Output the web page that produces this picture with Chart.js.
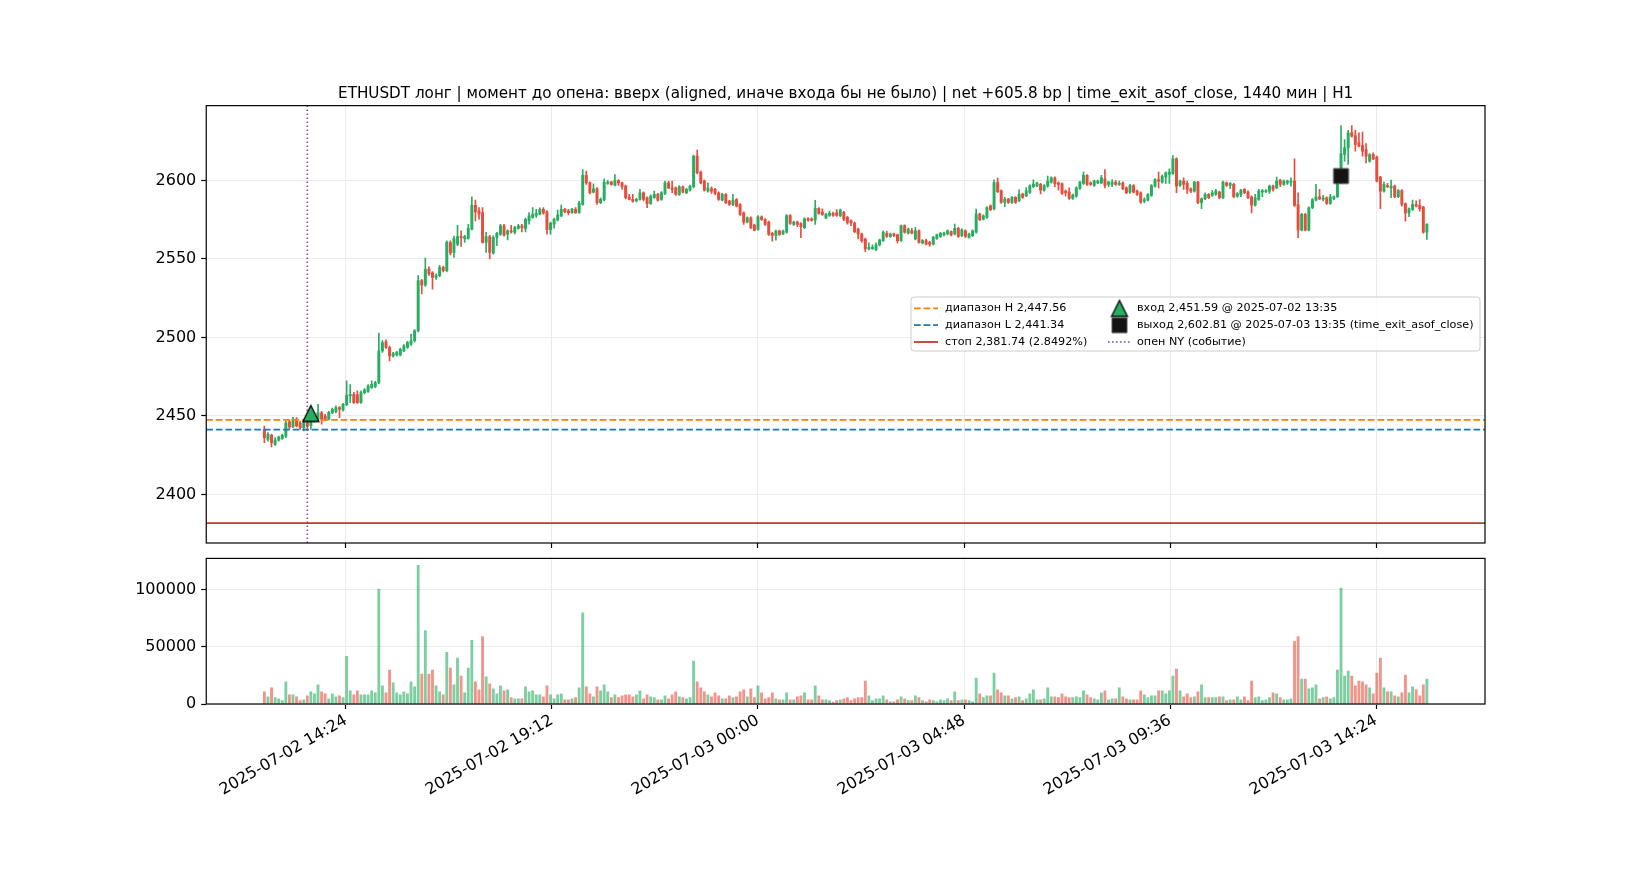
<!DOCTYPE html>
<html>
<head>
<meta charset="utf-8">
<script src="https://cdn.jsdelivr.net/npm/chart.js@4.4.1/dist/chart.umd.min.js"></script>
<style>
html, body { margin: 0; padding: 0; background: #fff; }
#wrap { position: relative; width: 1650px; height: 880px; }
#mainbox { position: absolute; left: 0; top: 0; width: 1650px; height: 560px; }
#volbox { position: absolute; left: 0; top: 550px; width: 1650px; height: 330px; }
</style>
</head>
<body>
<div id="wrap">
  <div id="mainbox"><canvas id="main"></canvas></div>
  <div id="volbox"><canvas id="vol"></canvas></div>
</div>
<script>
// 5-min candles, minutes counted from 2025-07-02 00:00
var startMin = 12 * 60 + 30;
var stepMin = 5;

var opens = [
  2441.5, 2435.1, 2437.7, 2431.9, 2434.5, 2435.5, 2437.2, 2446.2, 2443.2, 2448.0,
  2445.5, 2442.6, 2446.0, 2443.8, 2447.0, 2447.9, 2452.0, 2450.0, 2447.9, 2452.1,
  2452.8, 2455.3, 2453.8, 2457.2, 2462.8, 2463.8, 2463.5, 2458.5, 2464.9, 2465.5,
  2468.0, 2468.7, 2471.3, 2491.5, 2497.2, 2493.6, 2488.3, 2488.9, 2488.9, 2491.5,
  2493.6, 2495.7, 2497.9, 2504.2, 2536.2, 2533.4, 2543.6, 2541.1, 2538.3, 2539.4,
  2544.7, 2542.6, 2560.5, 2554.2, 2559.5, 2564.3, 2563.0, 2563.1, 2569.0, 2584.2,
  2580.6, 2579.5, 2560.5, 2564.3, 2553.8, 2563.7, 2565.8, 2571.1, 2565.8, 2567.9,
  2566.9, 2569.4, 2571.1, 2569.4, 2574.3, 2576.4, 2577.8, 2578.5, 2581.6, 2580.0,
  2568.6, 2572.1, 2574.9, 2577.4, 2581.6, 2580.6, 2579.5, 2581.6, 2579.5, 2584.8,
  2603.2, 2598.5, 2592.6, 2594.7, 2585.9, 2587.6, 2598.1, 2598.9, 2597.0, 2600.0,
  2598.5, 2596.4, 2589.4, 2588.0, 2586.9, 2588.0, 2592.2, 2589.0, 2585.4, 2589.0,
  2591.1, 2587.9, 2591.7, 2598.5, 2595.3, 2595.3, 2591.1, 2596.0, 2592.2, 2593.8,
  2596.0, 2615.5, 2605.3, 2599.6, 2593.2, 2594.7, 2594.3, 2592.2, 2587.5, 2591.1,
  2586.8, 2584.7, 2587.9, 2584.7, 2579.4, 2573.5, 2576.2, 2571.6, 2568.8, 2576.9,
  2575.2, 2573.5, 2566.3, 2565.0, 2567.8, 2566.0, 2567.1, 2577.7, 2572.0, 2573.5,
  2572.6, 2569.9, 2575.8, 2575.6, 2574.7, 2582.2, 2579.9, 2576.2, 2577.7, 2579.0,
  2579.4, 2577.5, 2579.7, 2576.5, 2574.4, 2572.9, 2569.1, 2565.9, 2562.7, 2556.4,
  2556.6, 2555.9, 2558.9, 2561.7, 2566.3, 2564.4, 2565.9, 2565.3, 2561.7, 2571.2,
  2566.5, 2568.0, 2562.7, 2568.0, 2560.2, 2561.7, 2560.6, 2559.5, 2563.1, 2564.4,
  2565.3, 2565.9, 2567.4, 2565.9, 2569.5, 2564.8, 2568.0, 2563.8, 2564.8, 2567.0,
  2578.6, 2575.4, 2576.5, 2583.9, 2581.8, 2598.7, 2593.4, 2586.0, 2588.1, 2586.0,
  2589.2, 2587.1, 2591.3, 2590.2, 2592.4, 2596.0, 2596.6, 2597.5, 2593.8, 2596.4,
  2598.9, 2601.7, 2598.5, 2597.9, 2593.2, 2592.6, 2588.5, 2590.0, 2594.9, 2598.1,
  2603.2, 2598.5, 2596.8, 2598.5, 2598.5, 2601.1, 2597.5, 2597.5, 2598.9, 2597.5,
  2598.5, 2595.3, 2592.6, 2596.8, 2593.2, 2592.2, 2586.8, 2587.5, 2590.5, 2596.4,
  2600.6, 2598.9, 2602.3, 2603.8, 2604.4, 2613.8, 2596.8, 2599.6, 2598.1, 2594.7,
  2593.2, 2598.9, 2585.8, 2588.3, 2591.1, 2590.5, 2591.1, 2592.6, 2589.0, 2598.5,
  2596.8, 2597.5, 2590.0, 2591.1, 2594.3, 2592.8, 2589.6, 2584.3, 2587.9, 2592.6,
  2592.8, 2593.2, 2596.4, 2595.3, 2600.2, 2597.5, 2598.5, 2598.9, 2599.6, 2584.7,
  2568.4, 2578.4, 2568.4, 2582.6, 2587.5, 2589.6, 2587.9, 2589.0, 2585.4, 2588.3,
  2589.6, 2598.5, 2616.6, 2620.8, 2630.3, 2628.6, 2624.0, 2622.3, 2619.7, 2612.3,
  2616.5, 2614.9, 2602.1, 2593.2, 2596.8, 2595.3, 2596.4, 2589.6, 2593.6, 2585.1,
  2579.4, 2581.6, 2584.7, 2584.1, 2583.0, 2567.1
];
var highs = [
  2443.6, 2439.4, 2438.5, 2436.2, 2437.2, 2438.5, 2446.8, 2447.5, 2449.2, 2449.0,
  2446.5, 2446.8, 2447.0, 2448.0, 2449.5, 2457.4, 2453.0, 2451.0, 2453.0, 2455.0,
  2456.5, 2456.0, 2458.0, 2472.3, 2470.0, 2465.0, 2466.0, 2466.0, 2467.5, 2470.0,
  2472.3, 2472.0, 2502.8, 2498.0, 2498.5, 2494.5, 2490.5, 2491.2, 2493.2, 2495.5,
  2497.5, 2502.1, 2505.0, 2539.4, 2537.0, 2550.6, 2545.0, 2542.0, 2540.5, 2546.0,
  2545.5, 2561.5, 2561.5, 2564.5, 2571.5, 2567.9, 2565.0, 2572.1, 2589.5, 2587.5,
  2582.7, 2582.7, 2566.9, 2565.0, 2564.8, 2567.0, 2572.1, 2572.0, 2568.5, 2571.5,
  2570.8, 2572.1, 2572.1, 2576.0, 2579.5, 2582.7, 2581.6, 2582.5, 2582.7, 2580.8,
  2573.5, 2576.0, 2581.2, 2584.4, 2582.3, 2581.6, 2582.2, 2582.7, 2586.9, 2607.0,
  2605.9, 2599.2, 2597.9, 2595.5, 2589.0, 2601.0, 2600.0, 2599.5, 2603.8, 2600.6,
  2599.0, 2597.0, 2591.1, 2591.1, 2588.6, 2594.3, 2592.8, 2589.6, 2590.8, 2593.2,
  2591.8, 2592.9, 2599.6, 2599.6, 2599.6, 2596.0, 2596.7, 2596.6, 2595.0, 2597.1,
  2616.2, 2619.3, 2606.0, 2600.2, 2598.5, 2596.0, 2595.0, 2592.8, 2591.8, 2591.7,
  2587.4, 2591.1, 2588.5, 2585.3, 2580.0, 2576.9, 2576.8, 2572.2, 2577.7, 2577.5,
  2575.8, 2574.1, 2566.9, 2568.4, 2568.4, 2568.4, 2578.3, 2578.3, 2574.1, 2574.1,
  2573.2, 2576.2, 2576.4, 2576.2, 2587.3, 2582.8, 2582.0, 2579.0, 2580.5, 2579.8,
  2581.5, 2581.7, 2580.3, 2577.1, 2575.0, 2573.5, 2569.7, 2566.5, 2563.3, 2560.2,
  2559.0, 2560.2, 2562.7, 2568.0, 2567.8, 2566.5, 2566.5, 2565.9, 2571.6, 2571.8,
  2569.7, 2569.5, 2570.1, 2568.6, 2562.3, 2562.7, 2561.2, 2564.4, 2565.9, 2566.9,
  2567.1, 2568.6, 2568.0, 2572.2, 2570.1, 2569.2, 2568.6, 2566.5, 2568.6, 2581.8,
  2579.2, 2578.1, 2583.4, 2584.5, 2600.4, 2601.5, 2594.0, 2589.2, 2588.7, 2589.8,
  2589.8, 2594.1, 2591.9, 2595.5, 2597.2, 2600.4, 2598.9, 2598.1, 2597.4, 2602.8,
  2602.3, 2602.3, 2599.1, 2598.5, 2593.8, 2595.3, 2591.3, 2595.9, 2599.5, 2605.3,
  2603.8, 2599.1, 2600.2, 2600.2, 2603.2, 2607.0, 2599.5, 2600.6, 2600.0, 2599.6,
  2599.1, 2595.9, 2597.5, 2597.4, 2593.8, 2592.8, 2589.0, 2591.7, 2597.4, 2601.2,
  2605.3, 2603.4, 2605.5, 2607.4, 2615.9, 2614.4, 2600.2, 2601.7, 2599.6, 2595.3,
  2599.5, 2599.5, 2588.9, 2592.2, 2591.7, 2593.6, 2594.3, 2593.2, 2599.6, 2599.1,
  2598.7, 2598.1, 2592.3, 2594.4, 2594.9, 2593.4, 2590.2, 2591.1, 2594.3, 2594.2,
  2594.2, 2597.0, 2597.0, 2602.1, 2600.8, 2600.2, 2600.2, 2601.7, 2613.8, 2592.2,
  2579.0, 2579.0, 2583.2, 2588.5, 2597.5, 2594.3, 2590.5, 2589.6, 2591.1, 2590.2,
  2599.1, 2635.0, 2626.1, 2632.0, 2635.0, 2632.0, 2630.3, 2630.8, 2623.5, 2617.1,
  2617.6, 2615.5, 2602.7, 2599.0, 2598.1, 2600.2, 2597.0, 2594.2, 2594.2, 2585.7,
  2582.6, 2587.5, 2587.0, 2587.9, 2583.6, 2572.6
];
var lows = [
  2433.0, 2434.0, 2430.2, 2431.3, 2434.0, 2435.0, 2436.2, 2441.8, 2442.5, 2443.0,
  2441.5, 2440.5, 2441.0, 2441.5, 2446.0, 2447.0, 2444.7, 2447.0, 2447.5, 2451.5,
  2452.0, 2448.9, 2453.0, 2456.5, 2458.5, 2458.0, 2458.0, 2458.0, 2464.0, 2465.0,
  2467.5, 2468.0, 2470.5, 2490.5, 2493.0, 2485.1, 2487.5, 2488.2, 2488.3, 2491.0,
  2493.0, 2495.0, 2497.0, 2503.5, 2527.7, 2532.5, 2539.5, 2530.8, 2537.0, 2538.8,
  2541.8, 2541.8, 2552.5, 2551.0, 2558.5, 2558.0, 2560.5, 2562.6, 2568.5, 2574.3,
  2575.3, 2560.0, 2554.2, 2550.0, 2553.0, 2558.4, 2565.0, 2564.5, 2562.2, 2566.4,
  2566.0, 2569.0, 2567.3, 2567.3, 2572.1, 2576.0, 2576.4, 2578.0, 2578.5, 2565.8,
  2565.8, 2569.6, 2574.3, 2577.0, 2579.3, 2578.0, 2579.0, 2579.0, 2579.0, 2584.2,
  2597.5, 2591.5, 2592.0, 2584.8, 2585.2, 2587.0, 2597.5, 2597.0, 2596.5, 2596.8,
  2594.3, 2588.3, 2587.6, 2586.2, 2586.3, 2587.5, 2586.9, 2582.7, 2584.8, 2588.5,
  2586.8, 2587.3, 2591.0, 2594.7, 2592.2, 2590.5, 2590.5, 2592.0, 2591.6, 2593.2,
  2595.3, 2604.2, 2597.8, 2593.2, 2592.5, 2591.7, 2591.0, 2587.3, 2587.0, 2585.2,
  2584.1, 2584.0, 2583.2, 2577.8, 2572.0, 2572.9, 2569.3, 2567.8, 2568.2, 2574.6,
  2571.4, 2565.0, 2561.4, 2562.0, 2565.0, 2565.4, 2566.5, 2572.0, 2571.4, 2570.5,
  2563.5, 2569.3, 2574.1, 2574.1, 2572.0, 2578.4, 2577.8, 2575.6, 2577.1, 2577.1,
  2577.1, 2576.9, 2574.4, 2572.2, 2571.2, 2566.8, 2562.7, 2560.6, 2554.7, 2555.8,
  2556.0, 2555.3, 2558.3, 2561.1, 2563.8, 2563.8, 2564.2, 2560.2, 2561.1, 2566.4,
  2565.9, 2565.9, 2562.1, 2560.0, 2559.6, 2558.9, 2558.1, 2558.9, 2562.5, 2563.8,
  2564.7, 2565.3, 2564.7, 2565.3, 2563.8, 2564.2, 2563.8, 2563.2, 2564.2, 2566.4,
  2574.4, 2574.8, 2575.9, 2580.8, 2581.2, 2592.2, 2585.4, 2583.3, 2585.4, 2585.4,
  2585.4, 2586.5, 2588.6, 2589.6, 2591.8, 2595.4, 2596.0, 2591.5, 2593.2, 2595.8,
  2598.3, 2596.0, 2593.8, 2591.1, 2590.0, 2587.9, 2587.9, 2589.4, 2594.3, 2597.5,
  2596.9, 2596.9, 2596.2, 2597.9, 2597.9, 2595.3, 2596.0, 2596.0, 2596.9, 2596.9,
  2594.1, 2591.6, 2591.7, 2592.0, 2590.5, 2585.4, 2585.8, 2586.9, 2589.9, 2595.8,
  2595.3, 2598.3, 2598.1, 2598.1, 2603.8, 2592.2, 2596.2, 2594.3, 2591.7, 2592.2,
  2592.6, 2585.2, 2582.0, 2587.7, 2588.4, 2589.9, 2590.5, 2588.4, 2588.4, 2596.2,
  2594.7, 2589.0, 2589.4, 2589.6, 2591.6, 2588.4, 2579.4, 2583.7, 2587.3, 2589.6,
  2592.2, 2591.7, 2593.2, 2594.7, 2596.0, 2596.9, 2597.5, 2596.4, 2583.5, 2563.5,
  2567.8, 2567.8, 2567.8, 2582.0, 2586.9, 2587.7, 2586.9, 2584.7, 2584.8, 2587.7,
  2589.0, 2597.9, 2612.3, 2610.2, 2627.6, 2618.7, 2621.3, 2615.5, 2611.2, 2611.7,
  2613.2, 2599.0, 2582.0, 2592.6, 2595.4, 2589.0, 2589.0, 2589.0, 2583.7, 2574.1,
  2576.9, 2581.0, 2583.1, 2580.5, 2566.5, 2562.5
];
var closes = [
  2436.2, 2438.3, 2433.0, 2434.7, 2436.6, 2437.7, 2445.7, 2443.0, 2448.0, 2443.6,
  2442.6, 2445.7, 2443.5, 2446.8, 2448.5, 2452.1, 2447.9, 2447.9, 2452.1, 2454.3,
  2455.3, 2454.3, 2457.4, 2463.2, 2463.8, 2458.5, 2458.5, 2464.9, 2466.6, 2469.1,
  2470.2, 2471.3, 2491.5, 2496.8, 2493.6, 2488.3, 2489.8, 2490.4, 2492.5, 2494.7,
  2496.8, 2497.9, 2504.2, 2536.2, 2533.4, 2543.6, 2540.4, 2538.3, 2539.4, 2544.5,
  2542.6, 2560.6, 2553.8, 2563.0, 2564.3, 2563.5, 2564.3, 2569.4, 2584.2, 2580.0,
  2578.9, 2560.5, 2564.3, 2554.2, 2563.7, 2566.4, 2571.1, 2565.2, 2567.9, 2567.3,
  2570.0, 2571.1, 2570.0, 2575.3, 2577.4, 2578.5, 2579.1, 2581.6, 2579.1, 2568.6,
  2572.8, 2575.3, 2578.0, 2581.6, 2580.0, 2579.5, 2581.6, 2579.5, 2585.4, 2603.2,
  2598.5, 2592.2, 2594.7, 2585.9, 2588.0, 2598.9, 2598.9, 2597.5, 2600.0, 2598.5,
  2596.0, 2589.0, 2588.0, 2586.7, 2588.0, 2592.2, 2588.0, 2585.2, 2590.0, 2591.1,
  2587.5, 2592.2, 2598.5, 2595.3, 2594.3, 2591.1, 2596.0, 2592.6, 2594.3, 2596.4,
  2615.5, 2604.9, 2598.5, 2593.8, 2595.3, 2593.2, 2591.7, 2587.9, 2591.1, 2585.8,
  2584.7, 2587.5, 2583.7, 2578.4, 2573.5, 2576.2, 2569.9, 2568.4, 2576.9, 2575.2,
  2572.0, 2565.6, 2565.0, 2567.8, 2565.6, 2567.8, 2577.7, 2572.6, 2573.5, 2572.0,
  2570.5, 2575.6, 2574.7, 2574.7, 2582.2, 2579.0, 2578.4, 2578.4, 2579.0, 2577.7,
  2577.7, 2581.1, 2575.4, 2573.3, 2572.9, 2567.4, 2565.9, 2561.7, 2556.4, 2557.4,
  2557.4, 2558.9, 2562.1, 2567.0, 2564.4, 2565.9, 2564.8, 2561.7, 2571.2, 2567.0,
  2569.1, 2566.5, 2568.0, 2560.6, 2561.7, 2559.5, 2559.5, 2563.8, 2565.3, 2566.3,
  2566.5, 2568.0, 2565.3, 2569.5, 2564.4, 2568.6, 2564.4, 2565.9, 2568.0, 2578.6,
  2575.0, 2577.5, 2582.8, 2581.4, 2598.7, 2592.8, 2586.0, 2588.1, 2586.0, 2589.2,
  2586.0, 2591.3, 2589.2, 2593.4, 2596.6, 2597.7, 2598.3, 2593.8, 2596.8, 2599.6,
  2601.7, 2597.9, 2597.5, 2591.7, 2592.2, 2588.5, 2590.7, 2595.3, 2598.9, 2603.2,
  2597.5, 2597.5, 2599.6, 2599.6, 2601.7, 2596.8, 2598.9, 2598.9, 2597.5, 2597.9,
  2594.7, 2592.2, 2596.8, 2592.6, 2591.1, 2586.2, 2587.9, 2591.1, 2596.8, 2600.6,
  2599.6, 2602.8, 2604.9, 2605.3, 2613.8, 2596.4, 2599.6, 2597.5, 2594.3, 2593.2,
  2598.9, 2585.8, 2588.3, 2591.1, 2589.0, 2592.2, 2593.2, 2589.0, 2598.9, 2596.8,
  2598.1, 2589.6, 2591.7, 2593.8, 2592.2, 2589.0, 2584.3, 2589.0, 2593.2, 2593.6,
  2593.6, 2596.4, 2594.3, 2599.6, 2597.5, 2599.6, 2599.6, 2599.6, 2584.1, 2568.4,
  2578.4, 2568.4, 2582.6, 2587.9, 2589.6, 2588.3, 2589.0, 2585.4, 2589.6, 2589.6,
  2598.5, 2617.0, 2620.8, 2630.3, 2628.2, 2622.9, 2621.9, 2618.7, 2615.5, 2616.5,
  2613.8, 2599.6, 2593.2, 2597.5, 2596.0, 2596.4, 2589.6, 2593.6, 2584.7, 2579.4,
  2582.0, 2584.7, 2583.7, 2582.0, 2567.1, 2572.0
];
var volumes = [
  10600, 6300, 14100, 5500, 4600, 2900, 19300, 8000, 8000, 6300,
  2900, 3700, 7200, 10600, 8900, 16700, 10600, 8900, 4600, 8900,
  6300, 7200, 5500, 41700, 11500, 8000, 11500, 8000, 8000, 8000,
  11500, 9800, 100300, 15800, 9800, 29600, 18400, 9800, 8000, 10600,
  8900, 19300, 14900, 121000, 26200, 64100, 26200, 29600, 15800, 10600,
  8000, 45100, 31300, 16700, 40000, 24400, 9800, 31300, 55500, 19300,
  12400, 58900, 23600, 17500, 13200, 8900, 15800, 11500, 12400, 5500,
  4600, 4600, 4600, 14900, 10600, 11500, 8000, 8000, 6300, 15800,
  8000, 4600, 8000, 8900, 3700, 3700, 4600, 5500, 14100, 79600,
  14900, 8900, 6300, 14900, 11500, 16700, 10600, 5500, 8000, 5500,
  7200, 8000, 8000, 6300, 8000, 11500, 4600, 8000, 6300, 5500,
  3700, 3700, 7200, 4600, 8000, 10600, 6300, 5500, 4600, 5500,
  37400, 19300, 14100, 10600, 8000, 6300, 9800, 7200, 4600, 4600,
  7200, 5500, 6300, 10600, 12400, 6300, 13200, 5500, 15800, 9800,
  4600, 5500, 9800, 4600, 3700, 3700, 9800, 3700, 3700, 6300,
  7200, 9800, 3700, 3700, 15800, 7200, 3700, 3700, 2900, 1700,
  2900, 3700, 4600, 5500, 2900, 4600, 5500, 5500, 20100, 7200,
  2900, 4600, 4600, 7200, 3700, 2000, 2000, 3700, 6300, 4600,
  2900, 2900, 7200, 5500, 2900, 2000, 3700, 2900, 2000, 3700,
  2900, 4600, 2900, 10600, 2900, 3700, 3700, 2900, 2000, 22700,
  8900, 5500, 7200, 7200, 27000, 12400, 9800, 7200, 7200, 4600,
  5500, 6300, 2900, 4600, 8900, 12400, 3700, 3700, 4600, 14100,
  6300, 6300, 5500, 8900, 6300, 5500, 5500, 6300, 5500, 11500,
  8000, 5500, 4600, 3700, 9800, 11500, 3700, 4600, 4600, 14100,
  6300, 4600, 3700, 3700, 3700, 11500, 8000, 5500, 7200, 7200,
  11500, 11500, 8900, 11500, 24400, 30500, 11500, 6300, 8900, 5500,
  6300, 10600, 16700, 5500, 5500, 5500, 5500, 6300, 6300, 2900,
  3700, 3700, 6300, 3700, 6300, 2900, 20100, 5500, 6300, 2900,
  3700, 5500, 9800, 8900, 5500, 3700, 3700, 4600, 54600, 58900,
  21800, 21800, 13200, 14100, 16700, 4600, 5500, 6300, 4600, 5500,
  29600, 101200, 24400, 28700, 24400, 15800, 20100, 19300, 16700, 14100,
  8900, 27000, 40000, 14100, 10600, 10600, 7200, 6300, 9800, 25300,
  9800, 14900, 12400, 7200, 16700, 21800
];

var rangeHigh = 2447.56;
var rangeLow = 2441.34;
var stopPrice = 2381.74;
var entryTime = 13 * 60 + 35;
var entryPrice = 2451.59;
var exitTime = 1440 + 13 * 60 + 35;
var exitPrice = 2602.81;
var nyOpenTime = 13 * 60 + 30;

var tickMinutes = [864, 1152, 1440, 1728, 2016, 2304];
var tickLabels = ["2025-07-02 14:24", "2025-07-02 19:12", "2025-07-03 00:00",
                  "2025-07-03 04:48", "2025-07-03 09:36", "2025-07-03 14:24"];
var priceTicks = [2400, 2450, 2500, 2550, 2600];
var volumeTicks = [0, 50000, 100000];

var titleText = "ETHUSDT лонг | момент до опена: вверх (aligned, иначе входа бы не было) | net +605.8 bp | time_exit_asof_close, 1440 мин | H1";
var legendLabels = [
  "диапазон H 2,447.56",
  "диапазон L 2,441.34",
  "стоп 2,381.74 (2.8492%)",
  "вход 2,451.59 @ 2025-07-02 13:35",
  "выход 2,602.81 @ 2025-07-03 13:35 (time_exit_asof_close)",
  "опен NY (событие)"
];

var GREEN = "#27ae60";
var RED = "#e74c3c";
var GREEN_VOL = "rgba(39,174,96,0.6)";
var RED_VOL = "rgba(231,76,60,0.6)";
var PURPLE = "#8e44ad";

var times = opens.map(function(o, i){ return startMin + stepMin * i; });
var upDown = opens.map(function(o, i){ return closes[i] >= o; });

// matplotlib-like 5% margins
var tSpan = times[times.length - 1] - times[0];
var xMin = times[0] - 0.05 * tSpan;
var xMax = times[times.length - 1] + 0.05 * tSpan;
var pLo = Math.min(stopPrice, Math.min.apply(null, lows));
var pHi = Math.max.apply(null, highs);
var yMin = pLo - 0.05 * (pHi - pLo);
var yMax = pHi + 0.05 * (pHi - pLo);
var vMax = Math.max.apply(null, volumes) * 1.05;

Chart.defaults.font.family = "'DejaVu Sans', sans-serif";
Chart.defaults.font.size = 16;
Chart.defaults.color = "#000";

function markerImage(kind, size){
  var s = size + 4;
  var c = document.createElement("canvas");
  c.width = s; c.height = s;
  var g = c.getContext("2d");
  var m = s / 2, h = size / 2;
  g.beginPath();
  if (kind === "tri") {
    g.moveTo(m, m - h); g.lineTo(m + h, m + h); g.lineTo(m - h, m + h); g.closePath();
    g.fillStyle = GREEN; g.fill();
    g.lineWidth = 1.3; g.strokeStyle = "#000"; g.stroke();
  } else {
    g.rect(m - h, m - h, size, size);
    g.fillStyle = "#131313"; g.fill();
    g.lineWidth = 1; g.strokeStyle = "#555"; g.stroke();
  }
  return c;
}
var triImg = markerImage("tri", 16);
var sqImg = markerImage("sq", 15);

var framePlugin = {
  id: "frame",
  afterDraw: function(chart){
    var a = chart.chartArea, ctx = chart.ctx;
    ctx.save();
    ctx.strokeStyle = "#000";
    ctx.lineWidth = 1.2;
    ctx.strokeRect(a.left, a.top, a.right - a.left, a.bottom - a.top);
    ctx.restore();
  }
};

var legendPlugin = {
  id: "tradeLegend",
  afterDraw: function(chart){
    var ctx = chart.ctx;
    var bx = 911, by = 297, bw = 569, bh = 54, r = 3;
    var rows = [308.4, 325.2, 342.0];
    ctx.save();
    ctx.beginPath();
    ctx.moveTo(bx + r, by);
    ctx.arcTo(bx + bw, by, bx + bw, by + bh, r);
    ctx.arcTo(bx + bw, by + bh, bx, by + bh, r);
    ctx.arcTo(bx, by + bh, bx, by, r);
    ctx.arcTo(bx, by, bx + bw, by, r);
    ctx.closePath();
    ctx.fillStyle = "rgba(255,255,255,0.8)";
    ctx.fill();
    ctx.strokeStyle = "#cccccc";
    ctx.lineWidth = 1;
    ctx.stroke();

    function hline(x1, x2, y, color, dash, w){
      ctx.beginPath();
      ctx.setLineDash(dash);
      ctx.strokeStyle = color;
      ctx.lineWidth = w;
      ctx.moveTo(x1, y); ctx.lineTo(x2, y);
      ctx.stroke();
      ctx.setLineDash([]);
    }
    hline(914, 938, rows[0], "#ff7f0e", [6.7, 2.9], 1.8);
    hline(914, 938, rows[1], "#1f77b4", [6.7, 2.9], 1.8);
    hline(914, 938, rows[2], "#c0392b", [], 1.8);
    ctx.drawImage(triImg, 1119.5 - triImg.width / 2, rows[0] - triImg.height / 2);
    ctx.drawImage(sqImg, 1119.5 - sqImg.width / 2, rows[1] - sqImg.height / 2);
    hline(1108, 1131, rows[2], PURPLE, [1.6, 2.4], 1.6);

    ctx.fillStyle = "#000";
    ctx.font = "11.2px 'DejaVu Sans', sans-serif";
    ctx.textBaseline = "middle";
    ctx.textAlign = "left";
    for (var k = 0; k < 3; k++) {
      ctx.fillText(legendLabels[k], 945, rows[k]);
      ctx.fillText(legendLabels[k + 3], 1137, rows[k]);
    }
    ctx.restore();
  }
};

function fixedTicks(values){
  return function(scale){ scale.ticks = values.map(function(v){ return { value: v }; }); };
}
// fixed axis size, no extra padding for edge labels
function fixWidth(w){
  return function(s){ s.width = w; s.paddingTop = 0; s.paddingBottom = 0; };
}
function fixHeight(h){
  return function(s){ s.height = h; s.paddingLeft = 0; s.paddingRight = 0; };
}

var mainChart = new Chart(document.getElementById("main"), {
  type: "bar",
  data: {
    datasets: [
      {
        label: "wick",
        data: times.map(function(t, i){ return { x: t, y: [lows[i], highs[i]] }; }),
        backgroundColor: upDown.map(function(u){ return u ? GREEN : RED; }),
        barThickness: 1,
        grouped: false,
        order: 6
      },
      {
        label: "body",
        data: times.map(function(t, i){ return { x: t, y: [opens[i], closes[i]] }; }),
        backgroundColor: upDown.map(function(u){ return u ? GREEN : RED; }),
        barThickness: 2.3,
        minBarLength: 1,
        grouped: false,
        order: 5
      },
      {
        type: "line", label: legendLabels[0],
        data: [{ x: xMin, y: rangeHigh }, { x: xMax, y: rangeHigh }],
        borderColor: "#ff7f0e", borderWidth: 1.8, borderDash: [6.7, 2.9],
        pointRadius: 0, order: 3
      },
      {
        type: "line", label: legendLabels[1],
        data: [{ x: xMin, y: rangeLow }, { x: xMax, y: rangeLow }],
        borderColor: "#1f77b4", borderWidth: 1.8, borderDash: [6.7, 2.9],
        pointRadius: 0, order: 3
      },
      {
        type: "line", label: legendLabels[2],
        data: [{ x: xMin, y: stopPrice }, { x: xMax, y: stopPrice }],
        borderColor: "#c0392b", borderWidth: 1.8,
        pointRadius: 0, order: 3
      },
      {
        type: "line", label: legendLabels[5],
        data: [{ x: nyOpenTime, y: yMin }, { x: nyOpenTime, y: yMax }],
        borderColor: PURPLE, borderWidth: 1.6, borderDash: [1.6, 2.4],
        pointRadius: 0, order: 3
      },
      {
        type: "scatter", label: legendLabels[3],
        data: [{ x: entryTime, y: entryPrice }],
        pointStyle: triImg, pointRadius: 8, order: 1
      },
      {
        type: "scatter", label: legendLabels[4],
        data: [{ x: exitTime, y: exitPrice }],
        pointStyle: sqImg, pointRadius: 8, order: 0
      }
    ]
  },
  options: {
    responsive: true,
    maintainAspectRatio: false,
    animation: false,
    events: [],
    layout: { padding: { left: 106.25, right: 165, top: 84.6, bottom: 5 } },
    plugins: {
      legend: { display: false },
      tooltip: { enabled: false },
      title: {
        display: true, text: titleText, fullSize: false,
        font: { size: 15.2, weight: "normal" }, color: "#000",
        padding: { top: 0, bottom: 2.8 }
      }
    },
    scales: {
      x: {
        type: "linear", min: xMin, max: xMax, offset: false,
        afterBuildTicks: fixedTicks(tickMinutes),
        afterFit: fixHeight(12),
        grid: { offset: false, color: "#ebebeb", lineWidth: 1, tickLength: 5, tickColor: "#000", tickWidth: 1.2 },
        border: { display: false },
        ticks: { callback: function(){ return ""; }, maxRotation: 0, autoSkip: false }
      },
      y: {
        type: "linear", min: yMin, max: yMax, beginAtZero: false,
        afterBuildTicks: fixedTicks(priceTicks),
        afterFit: fixWidth(100),
        grid: { color: "#ebebeb", lineWidth: 1, tickLength: 5, tickColor: "#000", tickWidth: 1.2 },
        border: { display: false },
        ticks: { padding: 5, callback: function(v){ return String(v); } }
      }
    }
  },
  plugins: [framePlugin, legendPlugin]
});

var volChart = new Chart(document.getElementById("vol"), {
  type: "bar",
  data: {
    datasets: [{
      label: "volume",
      data: times.map(function(t, i){ return { x: t, y: volumes[i] }; }),
      backgroundColor: upDown.map(function(u){ return u ? GREEN_VOL : RED_VOL; }),
      barThickness: 2.2,
      grouped: false
    }]
  },
  options: {
    responsive: true,
    maintainAspectRatio: false,
    animation: false,
    events: [],
    layout: { padding: { left: 106.25, right: 165, top: 8.4, bottom: 0 } },
    plugins: { legend: { display: false }, tooltip: { enabled: false } },
    scales: {
      x: {
        type: "linear", min: xMin, max: xMax, offset: false,
        afterBuildTicks: fixedTicks(tickMinutes),
        afterFit: fixHeight(176),
        grid: { offset: false, color: "#ebebeb", lineWidth: 1, tickLength: 5, tickColor: "#000", tickWidth: 1.2 },
        border: { display: false },
        ticks: {
          padding: 2, autoSkip: false, minRotation: 30, maxRotation: 30,
          callback: function(v){ return tickLabels[tickMinutes.indexOf(v)]; }
        }
      },
      y: {
        type: "linear", min: 0, max: vMax,
        afterBuildTicks: fixedTicks(volumeTicks),
        afterFit: fixWidth(100),
        grid: { color: "#ebebeb", lineWidth: 1, tickLength: 5, tickColor: "#000", tickWidth: 1.2 },
        border: { display: false },
        ticks: { padding: 5, callback: function(v){ return String(v); } }
      }
    }
  },
  plugins: [framePlugin]
});
</script>
</body>
</html>
